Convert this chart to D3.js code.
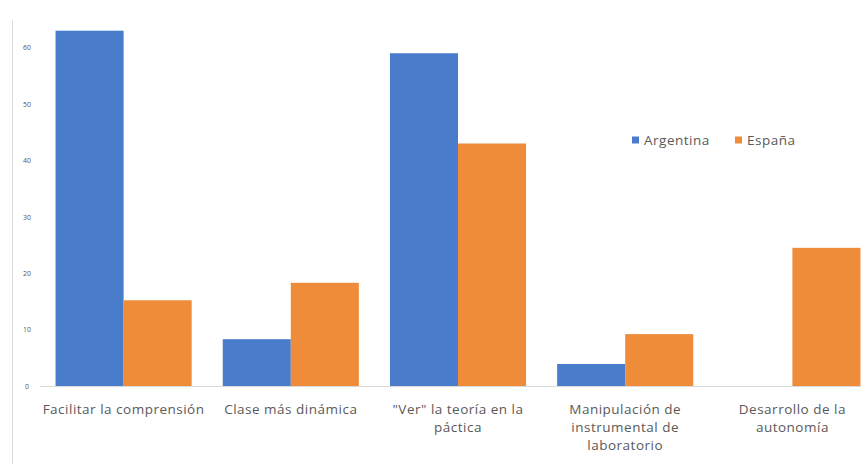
<!DOCTYPE html>
<html>
<head>
<meta charset="utf-8">
<script src="https://cdn.jsdelivr.net/npm/d3@7"></script>
<style>
  body { margin: 0; background: #fff; }
  svg { display: block; }
</style>
</head>
<body>
<div class="wrapper"></div>
<script>
var categories = [
  ["Facilitar la comprensión"],
  ["Clase más dinámica"],
  ["\"Ver\" la teoría en la", "páctica"],
  ["Manipulación de", "instrumental de", "laboratorio"],
  ["Desarrollo de la", "autonomía"]
];
var seriesNames = ["Argentina", "España"];
var argentina = [63, 8.3, 59, 3.9, 0];
var espana = [15.2, 18.3, 43, 9.2, 24.5];
var yTicks = [0, 10, 20, 30, 40, 50, 60];

var width = 861, height = 464;
var svg = d3.select(".wrapper").append("svg")
  .attr("width", width)
  .attr("height", height);

// light frame line on the left
svg.append("line")
  .attr("x1", 12.5).attr("x2", 12.5)
  .attr("y1", 20).attr("y2", height)
  .attr("stroke", "#dcdcdc");

var x0 = d3.scaleBand()
  .domain(d3.range(categories.length))
  .range([40, 876])
  .paddingInner(0.186)
  .paddingOuter(0.093);
var x1 = d3.scaleBand()
  .domain(seriesNames)
  .range([0, x0.bandwidth()]);
var y = d3.scaleLinear()
  .domain([0, 60])
  .range([386, 47.6]);
var color = d3.scaleOrdinal()
  .domain(seriesNames)
  .range(["#4a7ccc", "#ef8c3a"]);

var rows = categories.map(function(c, i) {
  return { i: i, values: [
    { key: "Argentina", value: argentina[i] },
    { key: "España", value: espana[i] }
  ]};
});

// baseline
svg.append("line")
  .attr("x1", 40).attr("x2", width)
  .attr("y1", y(0) + 0.5).attr("y2", y(0) + 0.5)
  .attr("stroke", "#d9d9d9");

svg.append("g")
  .selectAll("g")
  .data(rows)
  .enter().append("g")
    .attr("transform", function(d) { return "translate(" + x0(d.i) + ",0)"; })
  .selectAll("rect")
  .data(function(d) { return d.values.filter(function(v) { return v.value > 0; }); })
  .enter().append("rect")
    .attr("x", function(d) { return x1(d.key); })
    .attr("y", function(d) { return y(d.value); })
    .attr("width", x1.bandwidth())
    .attr("height", function(d) { return y(0) - y(d.value); })
    .attr("fill", function(d) { return color(d.key); });

// y axis labels
var yAxis = svg.append("g")
  .attr("transform", "translate(30,0)")
  .call(d3.axisLeft(y).tickValues(yTicks).tickSize(0).tickPadding(0));
yAxis.select(".domain").remove();
yAxis.selectAll("text")
  .attr("text-anchor", "middle")
  .attr("x", -3)
  .attr("fill", "#555")
  .attr("font-family", "Open Sans, sans-serif")
  .attr("font-size", 7);

// category labels
var labels = svg.append("g")
  .attr("font-family", "Open Sans, sans-serif")
  .attr("font-size", 13.5)
  .attr("letter-spacing", 0.5)
  .attr("fill", "#595959")
  .attr("text-anchor", "middle")
  .selectAll("text")
  .data(categories)
  .enter().append("text")
    .attr("x", function(d, i) { return x0(i) + x0.bandwidth() / 2; })
    .attr("y", 414);
labels.selectAll("tspan")
  .data(function(d) { return d; })
  .enter().append("tspan")
    .attr("x", function() { return d3.select(this.parentNode).attr("x"); })
    .attr("dy", function(d, i) { return i === 0 ? 0 : 18; })
    .text(function(d) { return d; });

// legend
var legend = svg.append("g")
  .attr("font-family", "Open Sans, sans-serif")
  .attr("font-size", 13.5)
  .attr("letter-spacing", 0.5)
  .selectAll("g")
  .data(seriesNames)
  .enter().append("g")
    .attr("transform", function(d, i) { return "translate(" + (632 + i * 103) + ",140)"; });
legend.append("rect")
  .attr("x", 0).attr("y", -3.5)
  .attr("width", 7).attr("height", 7)
  .attr("fill", color);
legend.append("text")
  .attr("x", 12)
  .attr("dy", "0.35em")
  .attr("fill", "#595959")
  .text(function(d) { return d; });
</script>
</body>
</html>
